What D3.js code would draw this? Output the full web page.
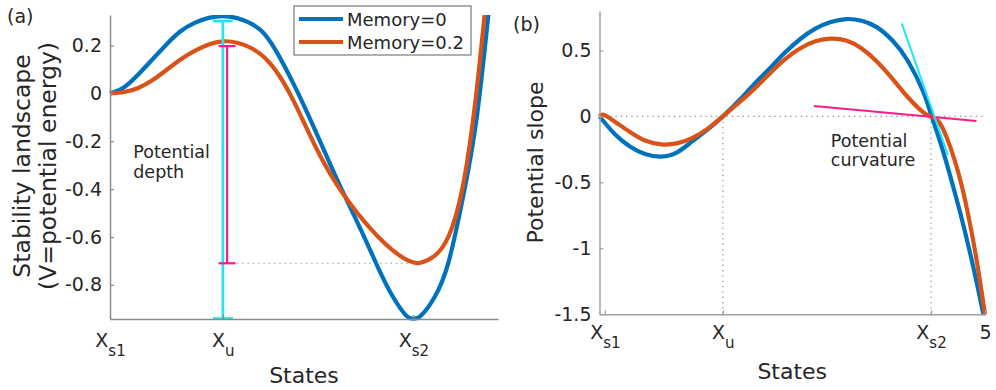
<!DOCTYPE html>
<html>
<head>
<meta charset="utf-8">
<script src="https://cdn.jsdelivr.net/npm/d3@7"></script>
<style>
  html, body { margin: 0; padding: 0; background: #fff; }
  svg { display: block; font-family: "DejaVu Sans", sans-serif; }
</style>
</head>
<body>
<svg id="fig" width="996" height="390"></svg>
<script>
// ---------- Panel (a): stability landscape V(x) ----------
const statesA = [0, 0.2, 0.4, 0.6, 0.8, 1.0, 1.2, 1.4, 1.6, 1.8, 2.0, 2.2, 2.4, 2.6, 2.8,
                 3.0, 3.2, 3.4, 3.6, 3.8, 4.0, 4.2, 4.3, 4.4, 4.6, 4.8, 5.0, 5.2, 5.4];
const energyMem0 = [0, 0.026, 0.079, 0.142, 0.205, 0.26, 0.295, 0.316, 0.323, 0.315, 0.292,
                    0.245, 0.154, 0.041, -0.083, -0.215, -0.348, -0.473, -0.598, -0.728,
                    -0.845, -0.929, -0.941, -0.931, -0.852, -0.704, -0.44, -0.098, 0.433];
const energyMem02 = [0, 0.006, 0.023, 0.055, 0.098, 0.142, 0.178, 0.205, 0.218, 0.212, 0.19,
                     0.147, 0.074, -0.03, -0.153, -0.272, -0.374, -0.459, -0.534, -0.599,
                     -0.654, -0.695, -0.706, -0.708, -0.679, -0.597, -0.39, 0.02, 0.6];
const stateTicksA = [0, 1.6, 4.3];
const stateLabelsA = [["X", "s1"], ["X", "u"], ["X", "s2"]];
const energyTicks = [-0.8, -0.6, -0.4, -0.2, 0, 0.2];
const energyDomain = [-0.943, 0.328];
const stateDomainA = [0, 5.5];
// potential depth bars at the barrier (low end = well bottom, high end = barrier top)
const depthBarX = [1.6, 1.66];
const depthBarLow = [-0.941, -0.71];
const depthBarHigh = [0.303, 0.198];
const depthGuideX = [1.8, 4.25];
const depthGuideY = -0.71;

// ---------- Panel (b): potential slope ----------
const statesB = [0, 0.05, 0.2, 0.4, 0.6, 0.8, 1.0, 1.2, 1.4, 1.6, 1.8, 2.0, 2.2, 2.4, 2.6, 2.8,
                 3.0, 3.2, 3.4, 3.6, 3.8, 4.0, 4.2, 4.3, 4.4, 4.5, 4.6, 4.7, 4.8, 4.9, 5.0];
const slopeMem0 = [0, -0.035, -0.135, -0.23, -0.287, -0.305, -0.275, -0.19, -0.1, 0, 0.115,
                   0.24, 0.36, 0.48, 0.585, 0.665, 0.715, 0.738, 0.725, 0.675, 0.575, 0.42,
                   0.185, 0.015, -0.16, -0.35, -0.56, -0.78, -1.02, -1.28, -1.56];
const slopeMem02 = [0, 0.012, -0.04, -0.12, -0.185, -0.212, -0.205, -0.165, -0.095, 0, 0.1,
                    0.205, 0.32, 0.43, 0.515, 0.57, 0.59, 0.575, 0.515, 0.415, 0.285, 0.145,
                    0.03, 0, -0.04, -0.155, -0.32, -0.53, -0.8, -1.12, -1.5];
const stateTicksB = [0.07, 1.6, 4.3, 5];
const stateLabelsB = [["X", "s1"], ["X", "u"], ["X", "s2"], ["5", ""]];
const slopeTicks = [-1.5, -1, -0.5, 0, 0.5];
const slopeDomain = [-1.5, 0.8];
const stateDomainB = [0, 5];
// tangent lines at the stable state X_s2
const tangentMem0X = [3.92, 4.52], tangentMem0Y = [0.706, -0.293];
const tangentMem02X = [2.78, 4.89], tangentMem02Y = [0.079, -0.035];
const guideXu = 1.6, guideXs2 = 4.3;

const seriesNames = ["Memory=0", "Memory=0.2"];
const seriesColors = ["#0072BD", "#D95319"];
const cyan = "#1fe6f4", magenta = "#ff1a8c";
const textColor = "#262626";

const svg = d3.select("#fig");

// scales
const xA = d3.scaleLinear().domain(stateDomainA).range([110, 498]);
const yA = d3.scaleLinear().domain(energyDomain).range([319, 15]);
const xB = d3.scaleLinear().domain(stateDomainB).range([599.5, 985]);
const yB = d3.scaleLinear().domain(slopeDomain).range([314.2, 10.9]);

const defs = svg.append("defs");
defs.append("clipPath").attr("id", "clipA").append("rect")
  .attr("x", xA.range()[0] - 3).attr("y", yA.range()[1])
  .attr("width", xA.range()[1] - xA.range()[0] + 6)
  .attr("height", yA.range()[0] - yA.range()[1] + 2);
defs.append("clipPath").attr("id", "clipB").append("rect")
  .attr("x", xB.range()[0] - 3).attr("y", yB.range()[1])
  .attr("width", xB.range()[1] - xB.range()[0] + 6)
  .attr("height", yB.range()[0] - yB.range()[1] + 1);

function styleAxis(g, color) {
  g.attr("font-family", null).attr("font-size", null);
  g.select(".domain").attr("stroke", color).attr("stroke-width", 1.5);
  g.selectAll(".tick line").attr("stroke", color).attr("stroke-width", 1.2);
  g.selectAll(".tick text").attr("fill", textColor).style("font-size", "19px");
}

function stateAxis(x, y, ticks, labels, baseY, color) {
  const g = svg.append("g")
    .attr("transform", `translate(0,${y.range()[0]})`)
    .call(d3.axisBottom(x).tickValues(ticks).tickSizeInner(-4).tickSizeOuter(0).tickFormat(() => ""));
  styleAxis(g, color);
  g.selectAll(".tick text").remove();
  g.selectAll(".tick").append("text")
    .attr("y", baseY - y.range()[0])
    .attr("text-anchor", "middle")
    .attr("fill", textColor)
    .style("font-size", "19px")
    .each(function (d, i) {
      const t = d3.select(this);
      t.append("tspan").text(labels[i][0]);
      if (labels[i][1]) {
        t.append("tspan").attr("dy", 9).style("font-size", "15px").text(labels[i][1]);
      }
    });
}

function valueAxis(x, y, ticks, color) {
  const g = svg.append("g")
    .attr("transform", `translate(${x.range()[0]},0)`)
    .call(d3.axisLeft(y).tickValues(ticks).tickSizeInner(-4).tickSizeOuter(0).tickPadding(8)
      .tickFormat(d => String(d)));
  styleAxis(g, color);
}

function dotted(g, x1, y1, x2, y2) {
  g.append("line")
    .attr("x1", x1).attr("y1", y1).attr("x2", x2).attr("y2", y2)
    .attr("stroke", "#8f8f8f").attr("stroke-width", 1.2)
    .attr("stroke-dasharray", "1.3 4");
}

const curve = d3.curveNatural;

// ===== Panel (a) =====
const gA = svg.append("g");
valueAxis(xA, yA, energyTicks, "#8a8a8a");
stateAxis(xA, yA, stateTicksA, stateLabelsA, 347, "#8a8a8a");

dotted(gA, xA(depthGuideX[0]), yA(depthGuideY), xA(depthGuideX[1]), yA(depthGuideY));

const lineA = d3.line().x(d => xA(d[0])).y(d => yA(d[1])).curve(curve);
[energyMem0, energyMem02].forEach((vals, i) => {
  gA.append("path")
    .attr("clip-path", "url(#clipA)")
    .attr("d", lineA(statesA.map((s, j) => [s, vals[j]])))
    .attr("fill", "none").attr("stroke", seriesColors[i]).attr("stroke-width", 4.2)
    .attr("stroke-linejoin", "round");
});

// potential depth error bars
const barColors = [cyan, magenta], barWidths = [2.7, 2.2], capHalf = [10, 8.5];
depthBarX.forEach((bx, i) => {
  const g = gA.append("g").attr("stroke", barColors[i]).attr("stroke-width", barWidths[i]);
  g.append("line").attr("x1", xA(bx)).attr("x2", xA(bx))
    .attr("y1", yA(depthBarLow[i])).attr("y2", yA(depthBarHigh[i]));
  [depthBarLow[i], depthBarHigh[i]].forEach(v => {
    g.append("line").attr("x1", xA(bx) - capHalf[i]).attr("x2", xA(bx) + capHalf[i])
      .attr("y1", yA(v)).attr("y2", yA(v));
  });
});

const noteA = gA.append("text").attr("fill", textColor).style("font-size", "17.5px")
  .attr("x", xA(0.33)).attr("y", yA(-0.27));
noteA.append("tspan").text("Potential");
noteA.append("tspan").attr("x", xA(0.33)).attr("dy", 20).text("depth");

// legend
const leg = svg.append("g");
leg.append("rect").attr("x", 294).attr("y", 6).attr("width", 177).attr("height", 49)
  .attr("fill", "#fff").attr("stroke", "#7a7a7a").attr("stroke-width", 1.2);
seriesNames.forEach((name, i) => {
  const cy = 19 + i * 23;
  leg.append("line").attr("x1", 299).attr("x2", 343).attr("y1", cy).attr("y2", cy)
    .attr("stroke", seriesColors[i]).attr("stroke-width", 4.2);
  leg.append("text").attr("x", 347).attr("y", cy + 6.5).attr("fill", textColor)
    .style("font-size", "18px").text(name);
});

// axis labels, panel (a)
svg.append("text").attr("transform", "translate(30,166) rotate(-90)")
  .attr("text-anchor", "middle").attr("fill", textColor).style("font-size", "23.5px")
  .text("Stability landscape");
svg.append("text").attr("transform", "translate(56,166) rotate(-90)")
  .attr("text-anchor", "middle").attr("fill", textColor).style("font-size", "23.5px")
  .text("(V=potential energy)");
svg.append("text").attr("x", (xA.range()[0] + xA.range()[1]) / 2).attr("y", 383)
  .attr("text-anchor", "middle").attr("fill", textColor).style("font-size", "22px")
  .text("States");
svg.append("text").attr("x", 7).attr("y", 22.5).attr("fill", textColor)
  .style("font-size", "19px").text("(a)");

// ===== Panel (b) =====
const gB = svg.append("g");
dotted(gB, xB(stateDomainB[0]), yB(0), xB(stateDomainB[1]), yB(0));
dotted(gB, xB(guideXu), yB(0), xB(guideXu), yB(slopeDomain[0]));
dotted(gB, xB(guideXs2), yB(0), xB(guideXs2), yB(slopeDomain[0]));

valueAxis(xB, yB, slopeTicks, "#a0a0a0");
stateAxis(xB, yB, stateTicksB, stateLabelsB, 339.5, "#a0a0a0");

const lineB = d3.line().x(d => xB(d[0])).y(d => yB(d[1])).curve(curve);
[slopeMem0, slopeMem02].forEach((vals, i) => {
  gB.append("path")
    .attr("clip-path", "url(#clipB)")
    .attr("d", lineB(statesB.map((s, j) => [s, vals[j]])))
    .attr("fill", "none").attr("stroke", seriesColors[i]).attr("stroke-width", 4.2)
    .attr("stroke-linejoin", "round");
});

// tangents (potential curvature) at X_s2
gB.append("line").attr("x1", xB(tangentMem02X[0])).attr("y1", yB(tangentMem02Y[0]))
  .attr("x2", xB(tangentMem02X[1])).attr("y2", yB(tangentMem02Y[1]))
  .attr("stroke", magenta).attr("stroke-width", 2);
gB.append("line").attr("x1", xB(tangentMem0X[0])).attr("y1", yB(tangentMem0Y[0]))
  .attr("x2", xB(tangentMem0X[1])).attr("y2", yB(tangentMem0Y[1]))
  .attr("stroke", cyan).attr("stroke-width", 2);

const noteB = gB.append("text").attr("fill", textColor).style("font-size", "17.5px")
  .attr("x", xB(3.0)).attr("y", yB(-0.23));
noteB.append("tspan").text("Potential");
noteB.append("tspan").attr("x", xB(3.0)).attr("dy", 19).text("curvature");

svg.append("text").attr("transform", "translate(543,162.5) rotate(-90)")
  .attr("text-anchor", "middle").attr("fill", textColor).style("font-size", "22px")
  .text("Potential slope");
svg.append("text").attr("x", (xB.range()[0] + xB.range()[1]) / 2).attr("y", 379)
  .attr("text-anchor", "middle").attr("fill", textColor).style("font-size", "22px")
  .text("States");
svg.append("text").attr("x", 513).attr("y", 30.5).attr("fill", textColor)
  .style("font-size", "19px").text("(b)");
</script>
</body>
</html>
